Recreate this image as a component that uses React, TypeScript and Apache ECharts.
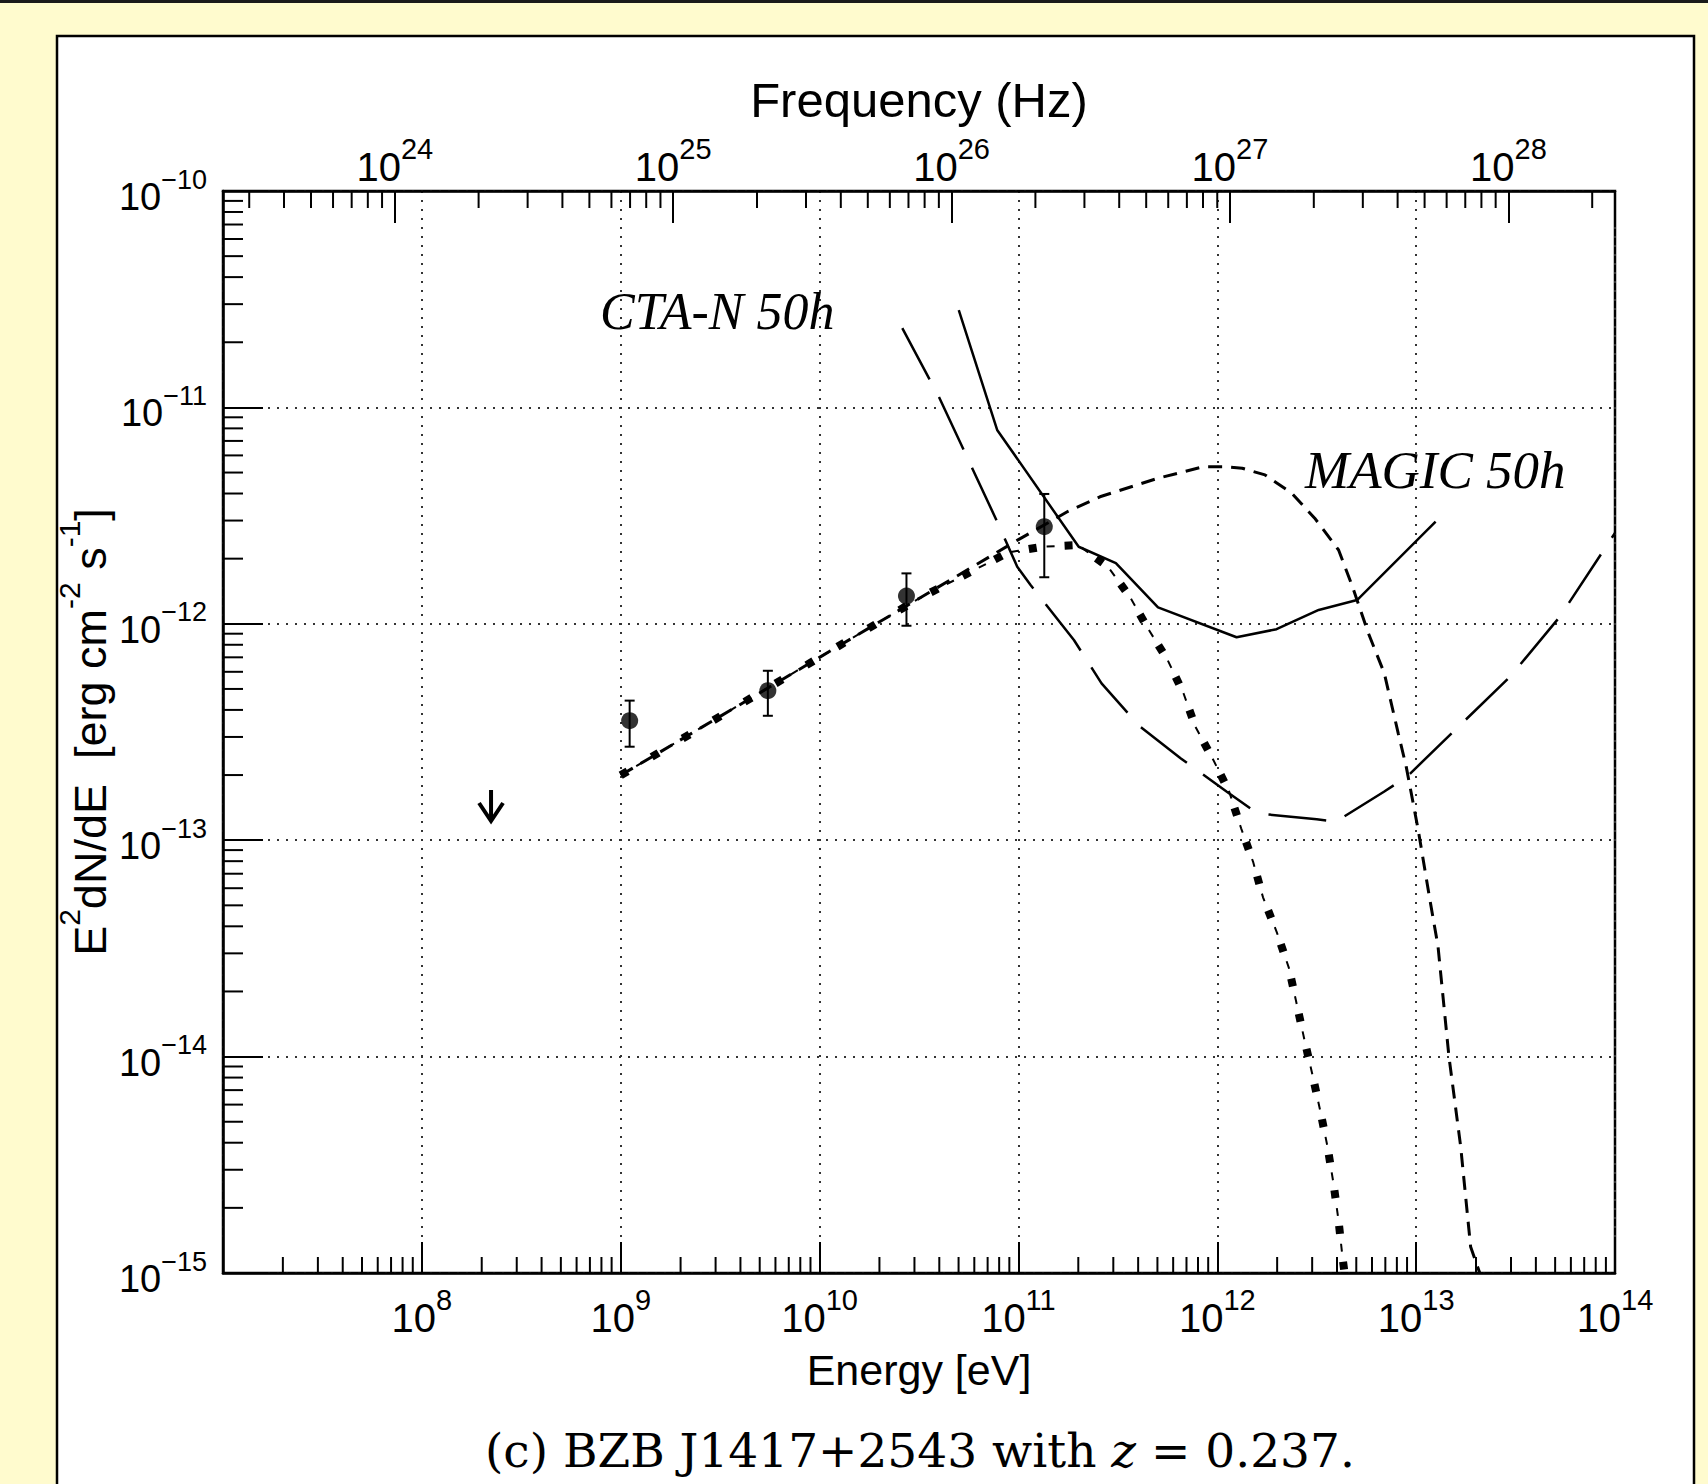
import React, { useEffect, useRef } from 'react';
import * as echarts from 'echarts';

// ---------- axis ranges ----------
const X_MIN = 1e7;
const X_MAX = 1e14;
const Y_MIN = 1e-15;
const Y_MAX = 1e-10;
const NU_MIN = 2.415e23;
const NU_MAX = 2.415e28;

// ---------- tick labels (exponents of 10) ----------
const BOTTOM_LABEL_EXP = [8, 9, 10, 11, 12, 13, 14];
const LEFT_LABEL_EXP = [-15, -14, -13, -12, -11, -10];
const TOP_LABEL_EXP = [24, 25, 26, 27, 28];
const MINOR_MULT = [2, 3, 4, 5, 6, 7, 8, 9];
const E_DECADES = [7, 8, 9, 10, 11, 12, 13];
const F_DECADES = [-15, -14, -13, -12, -11];
const NU_DECADES = [23, 24, 25, 26, 27, 28];

// ---------- data points (energy eV, E^2dN/dE erg cm^-2 s^-1) ----------
const POINT_E = [1.109e9, 5.495e9, 2.735e10, 1.349e11];
const POINT_F = [3.565e-13, 4.909e-13, 1.343e-12, 2.812e-12];
const POINT_LO = [2.704e-13, 3.758e-13, 9.795e-13, 1.641e-12];
const POINT_HI = [4.416e-13, 6.067e-13, 1.71e-12, 3.981e-12];
const UL_E = [2.228e8];
const UL_F = [1.706e-13];

// intrinsic model (thin dashed)
const MODEL_E = [1e9, 3.162e9, 1e10, 3.162e10, 1e11, 1.778e11, 2.57e11, 5.012e11, 8.511e11, 1.072e12, 1.334e12, 1.738e12, 2.371e12, 3.09e12, 4.074e12, 4.786e12, 5.754e12, 6.918e12, 8.128e12, 8.913e12, 1.023e13, 1.175e13, 1.288e13, 1.462e13, 1.675e13, 1.879e13, 2.089e13];
const MODEL_F = [1.995e-13, 3.733e-13, 6.998e-13, 1.309e-12, 2.449e-12, 3.311e-12, 3.864e-12, 4.699e-12, 5.321e-12, 5.321e-12, 5.236e-12, 4.875e-12, 4.009e-12, 3.076e-12, 2.193e-12, 1.483e-12, 9.036e-13, 5.902e-13, 3.119e-13, 2.188e-13, 1.122e-13, 5.248e-14, 3.236e-14, 1e-14, 3.837e-15, 1.321e-15, 1e-15];

// EBL-absorbed model (thick dotted)
const ABS_E = [1e9, 1e10, 3.162e10, 8.913e10, 1.318e11, 1.995e11, 2.818e11, 3.631e11, 4.467e11, 5.623e11, 6.761e11, 7.762e11, 9.55e11, 1.148e12, 1.318e12, 1.514e12, 1.698e12, 1.995e12, 2.291e12, 2.512e12, 2.754e12, 3.02e12, 3.311e12, 3.589e12, 3.846e12, 4.074e12, 4.266e12, 4.365e12];
const ABS_F = [1.995e-13, 6.998e-13, 1.309e-12, 2.138e-12, 2.27e-12, 2.312e-12, 1.837e-12, 1.334e-12, 9.55e-13, 6.808e-13, 4.775e-13, 3.342e-13, 2.35e-13, 1.675e-13, 1.135e-13, 7.943e-14, 5.445e-14, 3.741e-14, 2.57e-14, 1.738e-14, 1.175e-14, 8.128e-15, 5.495e-15, 3.802e-15, 2.57e-15, 1.738e-15, 1.175e-15, 1e-15];

// MAGIC 50h sensitivity (solid)
const MAGIC_E = [5.012e10, 7.816e10, 2.009e11, 3.09e11, 5.035e11, 1.25e12, 1.986e12, 3.236e12, 5.047e12, 1.253e13];
const MAGIC_F = [2.818e-11, 7.87e-12, 2.27e-12, 1.905e-12, 1.191e-12, 8.67e-13, 9.441e-13, 1.159e-12, 1.288e-12, 2.965e-12];

// CTA-N 50h sensitivity (long dashed)
const CTA_E = [2.606e10, 3.981e10, 7.674e10, 9.863e10, 1.151e11, 1.901e11, 2.618e11, 4.083e11, 6.561e11, 1.117e12, 1.589e12, 3.162e12, 3.954e12, 6.887e12, 8.974e12, 2.972e13, 5.284e13, 1e14];
const CTA_F = [2.323e-11, 1.119e-11, 3.076e-12, 1.837e-12, 1.51e-12, 8.414e-13, 5.309e-13, 3.35e-13, 2.388e-13, 1.675e-13, 1.33e-13, 1.25e-13, 1.219e-13, 1.675e-13, 1.963e-13, 5.702e-13, 1.079e-12, 2.63e-12];

// ---------- styles ----------
const SANS = '"Liberation Sans", Arial, Helvetica, sans-serif';
const SERIF = '"Liberation Serif", "Times New Roman", serif';
const CAPTION_FONT = '"DejaVu Serif", "Liberation Serif", serif';
const INK = '#000';

const pairs = (xs: number[], ys: number[]) => xs.map((x, i) => [x, ys[i]]);

const minorTicks = (decades: number[], lo: number, hi: number) =>
  decades
    .flatMap((d) => MINOR_MULT.map((m) => m * Math.pow(10, d)))
    .filter((v) => v > lo && v < hi);

const powFormatter = (allowed: number[]) => (v: number) => {
  const e = Math.log10(v);
  const r = Math.round(e);
  if (Math.abs(e - r) > 1e-6 || allowed.indexOf(r) < 0) return '';
  return `{b|10}{s|${r < 0 ? '\u2212' + -r : r}}`;
};

// base token padded on top (no explicit lineHeight so the padding enlarges the line),
// superscript token pinned to the top of the line
const labelRich = (b: number, s: number, raise: number) => ({
  b: { fontSize: b, fontFamily: SANS, color: INK, padding: [raise, 0, 0, 0], verticalAlign: 'bottom' },
  s: { fontSize: s, fontFamily: SANS, color: INK, verticalAlign: 'top' },
});

const tickSeries = (xAxisIndex: number, data: number[][], dx: number, dy: number) => ({
  type: 'custom',
  xAxisIndex,
  yAxisIndex: 0,
  silent: true,
  clip: false,
  z: 6,
  data,
  renderItem: (_p: any, api: any) => {
    const p = api.coord([api.value(0), api.value(1)]);
    return {
      type: 'line',
      shape: { x1: p[0], y1: p[1], x2: p[0] + dx, y2: p[1] + dy },
      style: { stroke: INK, lineWidth: 2 },
    };
  },
});

const gridLine = { show: true, lineStyle: { color: '#333', width: 2, type: [2, 7] } };

function buildOption() {
  return {
    animation: false,
    backgroundColor: '#FFFBCE',
    title: {
      text: '(c) BZB J1417+2543 with {i|z} = 0.237.',
      left: 485,
      top: 1427,
      padding: 0,
      textStyle: {
        fontFamily: CAPTION_FONT,
        fontSize: 47,
        lineHeight: 47,
        fontWeight: 'normal',
        color: INK,
        rich: { i: { fontFamily: CAPTION_FONT, fontSize: 47, lineHeight: 47, fontStyle: 'italic', color: INK } },
      },
    },
    grid: {
      left: 223,
      top: 191,
      width: 1392,
      height: 1082,
      show: true,
      borderColor: INK,
      borderWidth: 2.5,
      backgroundColor: 'transparent',
      containLabel: false,
      outerBoundsMode: 'none',
    },
    xAxis: [
      {
        type: 'log',
        logBase: 10,
        min: X_MIN,
        max: X_MAX,
        splitNumber: 7,
        position: 'bottom',
        name: 'Energy [eV]',
        nameLocation: 'middle',
        nameGap: 75,
        nameMoveOverlap: false,
        nameTextStyle: { fontFamily: SANS, fontSize: 43, color: INK },
        axisLine: { lineStyle: { color: INK, width: 2.5 } },
        axisTick: { inside: true, length: 31, lineStyle: { color: INK, width: 2 } },
        axisLabel: {
          interval: 0,
          margin: 12,
          formatter: powFormatter(BOTTOM_LABEL_EXP),
          rich: labelRich(40, 29, 13),
        },
        splitLine: gridLine,
        minorTick: { show: false },
      },
      {
        type: 'log',
        logBase: 10,
        min: NU_MIN,
        max: NU_MAX,
        splitNumber: 5,
        position: 'top',
        name: 'Frequency (Hz)',
        nameLocation: 'middle',
        nameGap: 67,
        nameMoveOverlap: false,
        nameTextStyle: { fontFamily: SANS, fontSize: 49, color: INK },
        axisLine: { lineStyle: { color: INK, width: 2.5 } },
        axisTick: { inside: true, length: 32, lineStyle: { color: INK, width: 2 } },
        axisLabel: {
          interval: 0,
          margin: 4,
          formatter: powFormatter(TOP_LABEL_EXP),
          rich: labelRich(40, 29, 13),
        },
        splitLine: { show: false },
      },
    ],
    yAxis: [
      {
        type: 'log',
        logBase: 10,
        min: Y_MIN,
        max: Y_MAX,
        splitNumber: 5,
        position: 'left',
        name: '{n|E}{s|2}{n|dN/dE  [erg cm}{s|-2}{n| s}{s|-1}{n|]}',
        nameLocation: 'middle',
        nameRotate: 90,
        nameGap: 110,
        nameMoveOverlap: false,
        nameTextStyle: {
          fontFamily: SANS,
          fontSize: 45,
          color: INK,
          rich: {
            n: { fontFamily: SANS, fontSize: 45, color: INK, padding: [14, 0, 0, 0], verticalAlign: 'bottom' },
            s: { fontFamily: SANS, fontSize: 30, color: INK, verticalAlign: 'top' },
          },
        },
        axisLine: { lineStyle: { color: INK, width: 2.5 } },
        axisTick: { inside: true, length: 40, lineStyle: { color: INK, width: 2 } },
        axisLabel: {
          interval: 0,
          margin: 16,
          formatter: powFormatter(LEFT_LABEL_EXP),
          rich: labelRich(38, 27, 12),
        },
        splitLine: gridLine,
      },
    ],
    graphic: [
      { type: 'rect', z: -10, silent: true, shape: { x: 0, y: 0, width: 1708, height: 3 }, style: { fill: '#1a1a1a' } },
      {
        type: 'rect',
        z: -10,
        silent: true,
        shape: { x: 57, y: 36, width: 1637, height: 1490 },
        style: { fill: '#ffffff', stroke: '#000', lineWidth: 2.5 },
      },
      {
        type: 'text',
        z: 100,
        silent: true,
        style: {
          x: 600,
          y: 311,
          text: 'CTA-N 50h',
          font: `italic 52px ${SERIF}`,
          fill: INK,
          align: 'left',
          verticalAlign: 'middle',
          textAlign: 'left',
          textVerticalAlign: 'middle',
        },
      },
      {
        type: 'text',
        z: 100,
        silent: true,
        style: {
          x: 1305,
          y: 470,
          text: 'MAGIC 50h',
          font: `italic 53px ${SERIF}`,
          fill: INK,
          align: 'left',
          verticalAlign: 'middle',
          textAlign: 'left',
          textVerticalAlign: 'middle',
        },
      },
    ],
    series: [
      tickSeries(0, minorTicks(E_DECADES, X_MIN, X_MAX).map((v) => [v, Y_MIN]), 0, -16),
      tickSeries(1, minorTicks(NU_DECADES, NU_MIN, NU_MAX).map((v) => [v, Y_MAX]), 0, 17),
      tickSeries(0, minorTicks(F_DECADES, Y_MIN, Y_MAX).map((v) => [X_MIN, v]), 20, 0),
      {
        name: 'absorbed model',
        type: 'line',
        data: pairs(ABS_E, ABS_F),
        showSymbol: false,
        symbol: 'none',
        silent: true,
        z: 3,
        lineStyle: { color: INK, width: 8, type: [8, 28], cap: 'butt' },
      },
      {
        name: 'absorbed model (thin)',
        type: 'line',
        data: pairs(ABS_E, ABS_F),
        showSymbol: false,
        symbol: 'none',
        silent: true,
        z: 3,
        lineStyle: { color: INK, width: 2, type: [8, 28], dashOffset: 18 },
      },
      {
        name: 'intrinsic model',
        type: 'line',
        data: pairs(MODEL_E, MODEL_F),
        showSymbol: false,
        symbol: 'none',
        silent: true,
        z: 3,
        lineStyle: { color: INK, width: 3, type: [14, 9] },
      },
      {
        name: 'MAGIC 50h',
        type: 'line',
        data: pairs(MAGIC_E, MAGIC_F),
        showSymbol: false,
        symbol: 'none',
        silent: true,
        z: 3,
        lineStyle: { color: INK, width: 2.5, type: 'solid' },
      },
      {
        name: 'CTA-N 50h',
        type: 'line',
        data: pairs(CTA_E, CTA_F),
        showSymbol: false,
        symbol: 'none',
        silent: true,
        z: 3,
        lineStyle: { color: INK, width: 2.5, type: [58, 20] },
      },
      {
        name: 'error bars',
        type: 'custom',
        silent: true,
        z: 4,
        encode: { x: 0, y: [1, 2] },
        data: POINT_E.map((e, i) => [e, POINT_LO[i], POINT_HI[i]]),
        renderItem: (_p: any, api: any) => {
          const x = api.value(0);
          const a = api.coord([x, api.value(1)]);
          const b = api.coord([x, api.value(2)]);
          const st = { stroke: INK, lineWidth: 2 };
          return {
            type: 'group',
            children: [
              { type: 'line', shape: { x1: a[0], y1: a[1], x2: b[0], y2: b[1] }, style: st },
              { type: 'line', shape: { x1: a[0] - 5, y1: a[1], x2: a[0] + 5, y2: a[1] }, style: st },
              { type: 'line', shape: { x1: b[0] - 5, y1: b[1], x2: b[0] + 5, y2: b[1] }, style: st },
            ],
          };
        },
      },
      {
        name: 'Fermi-LAT',
        type: 'scatter',
        silent: true,
        z: 5,
        symbol: 'circle',
        symbolSize: 17,
        itemStyle: { color: INK },
        data: pairs(POINT_E, POINT_F),
      },
      {
        name: 'upper limit',
        type: 'custom',
        silent: true,
        z: 5,
        encode: { x: 0, y: 1 },
        data: pairs(UL_E, UL_F),
        renderItem: (_p: any, api: any) => {
          const p = api.coord([api.value(0), api.value(1)]);
          const st = { stroke: INK, lineWidth: 4, fill: 'none' };
          return {
            type: 'group',
            children: [
              { type: 'line', shape: { x1: p[0], y1: p[1], x2: p[0], y2: p[1] + 30 }, style: st },
              {
                type: 'polyline',
                shape: { points: [[p[0] - 12, p[1] + 13], [p[0], p[1] + 31], [p[0] + 12, p[1] + 13]] },
                style: st,
              },
            ],
          };
        },
      },
    ],
  };
}

export default function App() {
  const ref = useRef<HTMLDivElement>(null);
  useEffect(() => {
    if (!ref.current) return;
    const chart = echarts.init(ref.current, undefined, { renderer: 'svg', width: 1708, height: 1484 });
    chart.setOption(buildOption() as any);
    return () => {
      chart.dispose();
    };
  }, []);
  return (
    <div
      ref={ref}
      style={{ position: 'fixed', left: 0, top: 0, width: 1708, height: 1484, overflow: 'hidden' }}
    />
  );
}
